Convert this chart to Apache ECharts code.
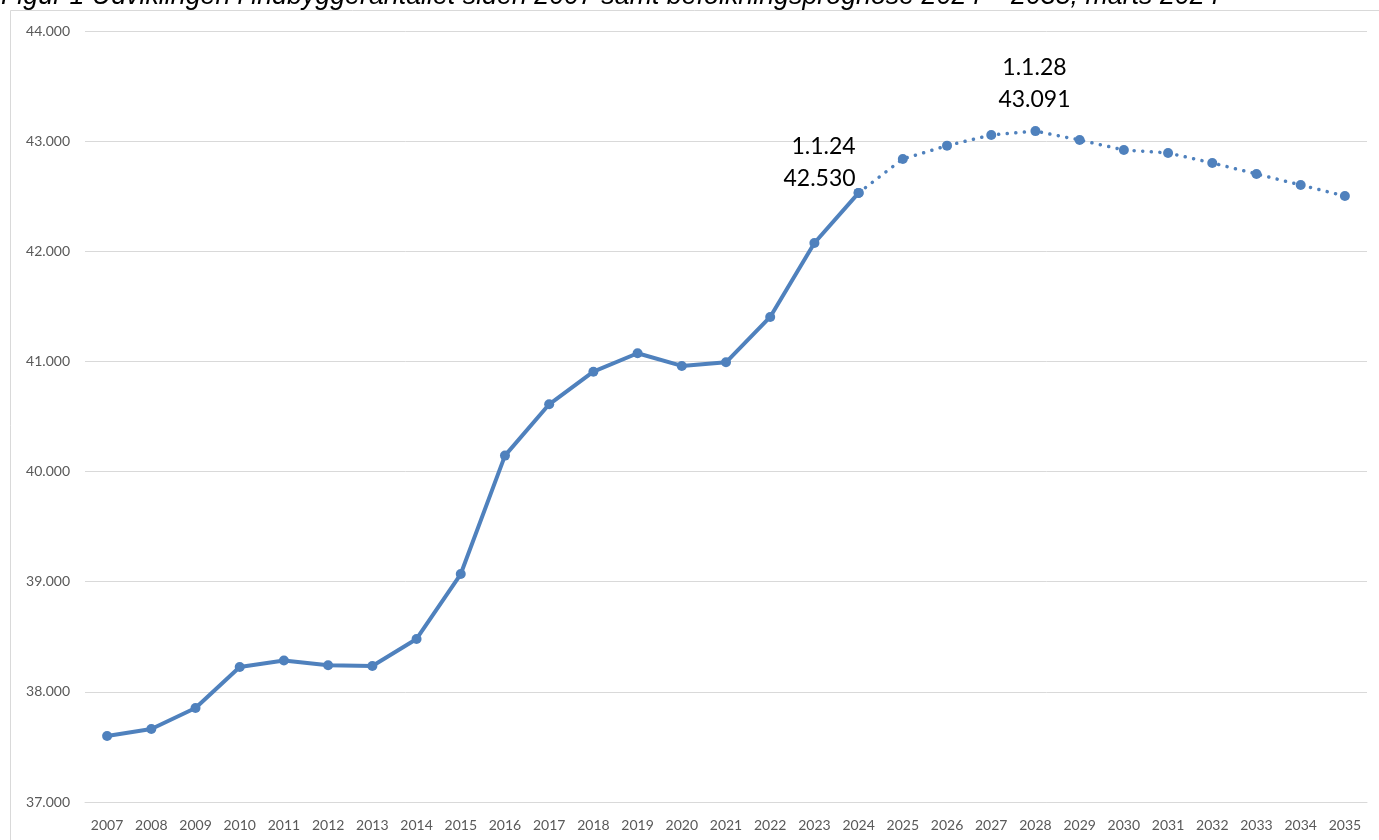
<!DOCTYPE html>
<html>
<head>
<meta charset="utf-8">
<script src="https://cdn.jsdelivr.net/npm/echarts@6/dist/echarts.min.js"></script>
<style>html,body{margin:0;padding:0;background:#fff;}#c{width:1379px;height:840px;}</style>
</head>
<body>
<div id="c"></div>
<script>
const titleText = 'Figur 1 Udviklingen i indbyggerantallet siden 2007 samt befolkningsprognose 2024 – 2035, marts 2024';
const years = ['2007','2008','2009','2010','2011','2012','2013','2014','2015','2016','2017','2018','2019','2020','2021','2022','2023','2024','2025','2026','2027','2028','2029','2030','2031','2032','2033','2034','2035'];
const actual = [37600,37663,37853,38226,38284,38241,38235,38480,39070,40145,40611,40907,41074,40959,40992,41404,42075,42530];
const forecast = [42530,42838,42959,43056,43091,43010,42920,42893,42802,42702,42602,42502];
const yTicks = {min:37000, max:44000, interval:1000};
const annotations = [{year:'2024', text:'1.1.24\n42.530'},{year:'2028', text:'1.1.28\n43.091'}];

const blue = '#4F81BD';
const annoLabel = (t, off, align) => ({show:true, position:'top', align:align, offset:off, formatter:t,
  fontFamily:'Lato', fontSize:23, lineHeight:32, color:'#000'});

const actualData = years.map((y,i)=> i < actual.length ? actual[i] : null).map((v,i)=>{
  if (years[i]===annotations[0].year) return {value:v, label:annoLabel(annotations[0].text,[-3,12],'right')};
  return v;
});
const fStart = actual.length-1;
const forecastData = years.map((y,i)=> i>=fStart ? forecast[i-fStart] : null).map((v,i)=>{
  if (years[i]===annotations[1].year) return {value:v, label:annoLabel(annotations[1].text,[-1,-6],'center')};
  return v;
});

const chart = echarts.init(document.getElementById('c'), null, {renderer:'canvas'});
chart.setOption({
  animation:false,
  backgroundColor:'#fff',
  graphic:[
    {type:'line', shape:{x1:10.5,y1:10.5,x2:1379,y2:10.5}, style:{stroke:'#d9d9d9', lineWidth:1}},
    {type:'line', shape:{x1:10.5,y1:10.5,x2:10.5,y2:840}, style:{stroke:'#d9d9d9', lineWidth:1}},
    {type:'text', x:1, y:10, z:-1, style:{text:titleText, font:'italic 26.8px "Liberation Sans"', fill:'#000', verticalAlign:'bottom'}}
  ],
  grid:{left:85, right:12, top:31, bottom:38, containLabel:false},
  xAxis:{type:'category', data:years, boundaryGap:true,
    axisLine:{show:true, lineStyle:{color:'#d9d9d9'}}, axisTick:{show:false},
    axisLabel:{color:'#595959', fontFamily:'Lato', fontSize:14, margin:16, interval:0}},
  yAxis:{type:'value', min:yTicks.min, max:yTicks.max, interval:yTicks.interval,
    axisLine:{show:false}, axisTick:{show:false},
    splitLine:{lineStyle:{color:'#d9d9d9', width:1}},
    axisLabel:{color:'#595959', fontFamily:'Lato', fontSize:14, margin:15,
      formatter:v=>String(v).replace(/\B(?=(\d{3})+(?!\d))/g,'.')}},
  series:[
    {name:'Faktisk', type:'line', data:actualData, symbol:'circle', symbolSize:10,
      lineStyle:{color:blue, width:4}, itemStyle:{color:blue}, z:3},
    {name:'Prognose', type:'line', data:forecastData, symbol:'circle', symbolSize:10,
      lineStyle:{color:blue, width:3.5, type:[0.1, 8.5], cap:'round'}, itemStyle:{color:blue}, z:2}
  ]
});
</script>
</body>
</html>
